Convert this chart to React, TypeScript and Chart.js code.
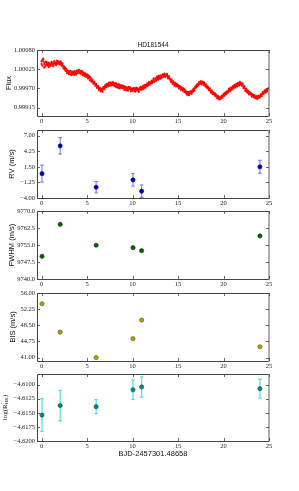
import React, { useEffect, useRef } from "react";
import { Chart, registerables } from "chart.js";
Chart.register(...registerables);

// ---------- data ----------
const xTickValues = [0, 5, 10, 15, 20, 25];
const obsEpochs = [0.05, 2.05, 6.0, 10.05, 11.0, 24.0];

const rvValues = [0.3, 5.2, -2.1, -0.8, -2.8, 1.5];
const rvErrors = [1.5, 1.45, 1.0, 1.1, 1.1, 1.15];
const rvTicks = [-4, -1.25, 1.5, 4.25, 7];

const fwhmValues = [9750.0, 9764.1, 9754.9, 9753.8, 9752.5, 9759.0];
const fwhmTicks = [9740, 9747.5, 9755, 9762.5, 9770];

const bisValues = [53.5, 46.9, 41.0, 45.4, 49.7, 43.5];
const bisTicks = [41, 44.75, 48.5, 52.25, 56];

const logRValues = [-4.6154, -4.6137, -4.6139, -4.6109, -4.6104, -4.6107];
const logRErrors = [0.0029, 0.0027, 0.00125, 0.0017, 0.0018, 0.00167];
const logRTicks = [-4.62, -4.6175, -4.615, -4.6125, -4.61];

const fluxTicks = [0.99915, 0.9997, 1.00025, 1.0008];
const photError = 0.00004;
const photTimes = [
  0, 0.1, 0.2, 0.3, 0.4, 0.5, 0.6, 0.7, 0.8, 0.9,
  1, 1.1, 1.2, 1.3, 1.4, 1.5, 1.6, 1.7, 1.8, 1.9,
  2, 2.1, 2.2, 2.3, 2.4, 2.5, 2.6, 2.7, 2.8, 2.9,
  3, 3.1, 3.2, 3.3, 3.4, 3.5, 3.6, 3.7, 3.8, 3.9,
  4, 4.1, 4.2, 4.3, 4.4, 4.5, 4.6, 4.7, 4.8, 4.9,
  5, 5.1, 5.2, 5.3, 5.4, 5.5, 5.6, 5.7, 5.8, 5.9,
  6, 6.1, 6.2, 6.3, 6.4, 6.5, 6.6, 6.7, 6.8, 6.9,
  7, 7.1, 7.2, 7.3, 7.4, 7.5, 7.6, 7.7, 7.8, 7.9,
  8, 8.1, 8.2, 8.3, 8.4, 8.5, 8.6, 8.7, 8.8, 8.9,
  9, 9.1, 9.2, 9.3, 9.4, 9.5, 9.6, 9.7, 9.8, 9.9,
  10, 10.1, 10.2, 10.3, 10.4, 10.5, 10.6, 10.7, 10.8, 10.9,
  11, 11.1, 11.2, 11.3, 11.4, 11.5, 11.6, 11.7, 11.8, 11.9,
  12, 12.1, 12.2, 12.3, 12.4, 12.5, 12.6, 12.7, 12.8, 12.9,
  13, 13.1, 13.2, 13.3, 13.4, 13.5, 13.6, 13.7, 13.8, 13.9,
  14, 14.1, 14.2, 14.3, 14.4, 14.5, 14.6, 14.7, 14.8, 14.9,
  15, 15.1, 15.2, 15.3, 15.4, 15.5, 15.6, 15.7, 15.8, 15.9,
  16, 16.1, 16.2, 16.3, 16.4, 16.5, 16.6, 16.7, 16.8, 16.9,
  17, 17.1, 17.2, 17.3, 17.4, 17.5, 17.6, 17.7, 17.8, 17.9,
  18, 18.1, 18.2, 18.3, 18.4, 18.5, 18.6, 18.7, 18.8, 18.9,
  19, 19.1, 19.2, 19.3, 19.4, 19.5, 19.6, 19.7, 19.8, 19.9,
  20, 20.1, 20.2, 20.3, 20.4, 20.5, 20.6, 20.7, 20.8, 20.9,
  21, 21.1, 21.2, 21.3, 21.4, 21.5, 21.6, 21.7, 21.8, 21.9,
  22, 22.1, 22.2, 22.3, 22.4, 22.5, 22.6, 22.7, 22.8, 22.9,
  23, 23.1, 23.2, 23.3, 23.4, 23.5, 23.6, 23.7, 23.8, 23.9,
  24, 24.1, 24.2, 24.3, 24.4, 24.5, 24.6, 24.7, 24.8, 24.9,
  25,
];
// flux - 1, in units of 1e-5 (first exposure of each cadence)
const photFluxOffsetE5 = [
  40, 52, 47, 30, 45, 38, 42, 35, 40, 36,
  38, 43, 36, 41, 45, 39, 44, 40, 47, 43,
  45, 40, 43, 36, 33, 26, 29, 20, 22, 16,
  15, 19, 10, 14, 12, 16, 9, 15, 19, 14,
  18, 21, 15, 19, 13, 17, 10, 12, 7, 9,
  5, 8, 1, 3, -4, -8, -5, -13, -11, -18,
  -20, -24, -27, -31, -28, -34, -37, -33, -29, -27,
  -25, -20, -23, -17, -21, -15, -19, -16, -20, -14,
  -18, -22, -16, -24, -20, -26, -23, -27, -21, -29,
  -28, -25, -31, -27, -33, -29, -26, -32, -30, -35,
  -33, -29, -36, -31, -34, -30, -37, -32, -28, -33,
  -28, -30, -25, -27, -22, -20, -23, -17, -18, -14,
  -12, -15, -9, -7, -10, -4, -6, 0, -3, 2,
  2, -1, 5, 3, 7, 8, 5, 10, 6, 3,
  1, -4, -6, -9, -13, -15, -18, -20, -17, -22,
  -25, -23, -28, -26, -30, -32, -35, -33, -38, -40,
  -42, -46, -45, -41, -43, -39, -35, -37, -31, -28,
  -22, -24, -18, -17, -14, -13, -15, -11, -15, -18,
  -20, -25, -24, -29, -31, -35, -38, -42, -40, -45,
  -48, -46, -51, -53, -55, -57, -60, -56, -55, -52,
  -50, -45, -47, -41, -43, -37, -35, -32, -34, -29,
  -28, -26, -23, -25, -21, -20, -18, -22, -15, -14,
  -18, -20, -25, -28, -33, -38, -36, -42, -40, -45,
  -48, -46, -51, -49, -53, -55, -52, -57, -56, -54,
  -52, -50, -47, -45, -42, -40, -37, -39, -34, -35,
  -33,
];
// flux - 1, in units of 1e-5 (second exposure of each cadence)
const photFluxOffsetE5b = [
  48, 35, 55, 40, 33, 46, 37, 44, 31, 42,
  35, 46, 40, 34, 48, 42, 37, 49, 41, 46,
  39, 47, 35, 41, 28, 32, 22, 26, 14, 20,
  11, 17, 20, 8, 18, 11, 19, 13, 10, 21,
  14, 23, 17, 12, 20, 8, 15, 6, 13, 3,
  10, -1, 6, -7, 0, -11, -9, -16, -14, -22,
  -17, -28, -23, -35, -32, -38, -31, -39, -26, -32,
  -21, -26, -17, -24, -14, -22, -13, -21, -12, -19,
  -23, -15, -26, -19, -28, -18, -30, -22, -27, -24,
  -23, -34, -26, -35, -28, -36, -30, -27, -38, -31,
  -37, -32, -30, -39, -28, -35, -31, -40, -33, -26,
  -33, -24, -31, -20, -28, -24, -16, -21, -12, -19,
  -16, -8, -13, -2, -11, -1, -8, 4, -5, 6,
  -2, 7, 1, 10, 4, 12, 3, 7, 11, -1,
  5, -2, -11, -5, -17, -10, -22, -14, -24, -19,
  -21, -30, -24, -34, -27, -36, -30, -40, -36, -44,
  -48, -40, -49, -44, -38, -45, -40, -31, -36, -25,
  -27, -19, -21, -12, -17, -10, -18, -13, -20, -14,
  -24, -19, -29, -26, -35, -30, -41, -36, -46, -43,
  -44, -52, -49, -58, -52, -61, -55, -59, -51, -56,
  -46, -51, -42, -46, -38, -41, -31, -38, -28, -33,
  -24, -30, -20, -27, -17, -24, -14, -19, -12, -18,
  -22, -16, -29, -24, -37, -31, -41, -37, -47, -42,
  -44, -53, -47, -55, -50, -58, -54, -60, -51, -57,
  -55, -47, -52, -41, -46, -36, -42, -33, -38, -30,
  -29,
];

// ---------- styling / layout ----------
const TICK_FONT = { family: "'Liberation Serif', 'DejaVu Serif', serif", size: 6.5 };
const SANS = "'Liberation Sans', Arial, sans-serif";
const SERIF = "'Liberation Serif', 'DejaVu Serif', serif";
const PLOT_LEFT = 37;
const PLOT_RIGHT = 269;
const CANVAS_W = 299;
const X_AXIS_H = 10;

function fmt(v: number, d: number) {
  const s = Math.abs(v).toFixed(d);
  return v < 0 ? "\u2212" + s : s;
}

type ErrSpec = { values: number[]; color: string; width: number; cap: number } | null;
type Series = { xs: number[]; ys: number[] };
type Panel = {
  key: string;
  chartTop: number;
  chartBottom: number;
  padTop: number;
  padBottom: number;
  yMin: number;
  yMax: number;
  yTicks: number[];
  decimals: number;
  series: Series[];
  err: ErrSpec;
  pointStyle: string;
  radius: number;
  fill: string;
  border: string;
  yTitle: string;
  yTitleX: number;
  mainTitle?: string;
  xTitle?: string;
  logTitle?: boolean;
};

const panels: Panel[] = [
  {
    key: "flux", chartTop: 50, chartBottom: 116, padTop: 20, padBottom: 2,
    yMin: 0.99891, yMax: 1.0008, yTicks: fluxTicks, decimals: 5,
    series: [
      { xs: photTimes, ys: photFluxOffsetE5.map((o) => 1 + o * 1e-5) },
      { xs: photTimes, ys: photFluxOffsetE5b.map((o) => 1 + o * 1e-5) },
    ],
    err: { values: photTimes.map(() => photError), color: "rgba(255,0,0,0.75)", width: 0.6, cap: 0 },
    pointStyle: "rect", radius: 1.3, fill: "#ff0000", border: "#ff0000",
    yTitle: "Flux", yTitleX: 9, mainTitle: "HD181544",
  },
  {
    key: "rv", chartTop: 130, chartBottom: 197.5, padTop: 10, padBottom: 2,
    yMin: -4, yMax: 8, yTicks: rvTicks, decimals: 2,
    series: [{ xs: obsEpochs, ys: rvValues }],
    err: { values: rvErrors, color: "#6f6fff", width: 1, cap: 1.8 },
    pointStyle: "circle", radius: 2.1, fill: "#0000c8", border: "#000070",
    yTitle: "RV (m/s)", yTitleX: 12,
  },
  {
    key: "fwhm", chartTop: 211, chartBottom: 279, padTop: 10, padBottom: 2,
    yMin: 9740, yMax: 9770, yTicks: fwhmTicks, decimals: 1,
    series: [{ xs: obsEpochs, ys: fwhmValues }], err: null,
    pointStyle: "circle", radius: 2.1, fill: "#006400", border: "#003000",
    yTitle: "FWHM (m/s)", yTitleX: 12,
  },
  {
    key: "bis", chartTop: 292.5, chartBottom: 360, padTop: 10, padBottom: 2,
    yMin: 40.2, yMax: 56, yTicks: bisTicks, decimals: 2,
    series: [{ xs: obsEpochs, ys: bisValues }], err: null,
    pointStyle: "circle", radius: 2.1, fill: "#a8a800", border: "#505000",
    yTitle: "BIS (m/s)", yTitleX: 12.5,
  },
  {
    key: "logr", chartTop: 374, chartBottom: 441.3, padTop: 10, padBottom: 22,
    yMin: -4.62, yMax: -4.6081, yTicks: logRTicks, decimals: 4,
    series: [{ xs: obsEpochs, ys: logRValues }],
    err: { values: logRErrors, color: "#62dede", width: 1.3, cap: 1.8 },
    pointStyle: "circle", radius: 2.1, fill: "#008b8b", border: "#004848",
    yTitle: "log(R'HK)", yTitleX: 5, logTitle: true, xTitle: "BJD-2457301.48658",
  },
];

function makeDecor(p: Panel) {
  return {
    id: "decor_" + p.key,
    beforeDatasetsDraw(chart: any) {
      if (!p.err) return;
      const ctx = chart.ctx;
      const xs = chart.scales.x;
      const ys = chart.scales.y;
      const e = p.err;
      ctx.save();
      ctx.strokeStyle = e.color;
      ctx.lineWidth = e.width;
      chart.data.datasets.forEach((ds: any) => {
        ds.data.forEach((pt: any, i: number) => {
          const err = e.values[i];
          const x = xs.getPixelForValue(pt.x);
          const y1 = ys.getPixelForValue(pt.y - err);
          const y2 = ys.getPixelForValue(pt.y + err);
          ctx.beginPath();
          ctx.moveTo(x, y1);
          ctx.lineTo(x, y2);
          if (e.cap > 0) {
            ctx.moveTo(x - e.cap, y1);
            ctx.lineTo(x + e.cap, y1);
            ctx.moveTo(x - e.cap, y2);
            ctx.lineTo(x + e.cap, y2);
          }
          ctx.stroke();
        });
      });
      ctx.restore();
    },
    afterDraw(chart: any) {
      const ctx = chart.ctx;
      const { left, right, top, bottom } = chart.chartArea;
      const xs = chart.scales.x;
      const ys = chart.scales.y;
      ctx.save();
      // frame
      ctx.strokeStyle = "#444";
      ctx.lineWidth = 1;
      ctx.beginPath();
      ctx.moveTo(right, top + 0.5);
      ctx.lineTo(left + 0.5, top + 0.5);
      ctx.lineTo(left + 0.5, bottom + 0.5);
      ctx.lineTo(right, bottom + 0.5);
      ctx.stroke();
      ctx.strokeStyle = "#9a9a9a";
      ctx.lineWidth = 1.6;
      ctx.beginPath();
      ctx.moveTo(right, top);
      ctx.lineTo(right, bottom + 1);
      ctx.stroke();
      // inward ticks
      ctx.strokeStyle = "#444";
      ctx.lineWidth = 0.8;
      const TL = 3;
      ctx.beginPath();
      xTickValues.forEach((v) => {
        const x = Math.round(xs.getPixelForValue(v)) + 0.5;
        ctx.moveTo(x, bottom);
        ctx.lineTo(x, bottom - TL);
        ctx.moveTo(x, top);
        ctx.lineTo(x, top + TL);
      });
      p.yTicks.forEach((v) => {
        const y = Math.round(ys.getPixelForValue(v)) + 0.5;
        ctx.moveTo(left, y);
        ctx.lineTo(left + TL, y);
        ctx.moveTo(right, y);
        ctx.lineTo(right - TL, y);
      });
      ctx.stroke();

      // titles
      ctx.fillStyle = "#111";
      const cx = (left + right) / 2;
      if (p.mainTitle) {
        ctx.font = `6.5px ${SANS}`;
        ctx.textAlign = "center";
        ctx.textBaseline = "alphabetic";
        ctx.fillText(p.mainTitle, cx, top - 3);
      }
      if (p.xTitle) {
        ctx.font = `7.5px ${SANS}`;
        ctx.textAlign = "center";
        ctx.textBaseline = "middle";
        ctx.fillText(p.xTitle, cx, bottom + 13);
      }
      const cy = (top + bottom) / 2;
      ctx.translate(p.yTitleX, cy);
      ctx.rotate(-Math.PI / 2);
      ctx.textBaseline = "middle";
      if (!p.logTitle) {
        ctx.font = `7.5px ${SANS}`;
        ctx.textAlign = "center";
        ctx.fillText(p.yTitle, 0, 0);
      } else {
        const big = `7px ${SERIF}`;
        const small = `5px ${SERIF}`;
        ctx.font = big;
        const w0 = ctx.measureText("log(R").width;
        const w3 = ctx.measureText(")").width;
        ctx.font = small;
        const w1 = ctx.measureText("\u2032").width;
        const w2 = ctx.measureText("HK").width;
        const mid = Math.max(w1, w2);
        let x = -(w0 + mid + w3) / 2;
        ctx.textAlign = "left";
        ctx.font = big;
        ctx.fillText("log(R", x, 0);
        x += w0;
        ctx.font = small;
        ctx.fillText("\u2032", x, -2.2);
        ctx.fillText("HK", x, 1.8);
        x += mid;
        ctx.font = big;
        ctx.fillText(")", x, 0);
      }
      ctx.restore();
    },
  };
}

function canvasGeom(p: Panel) {
  const top = p.chartTop - p.padTop;
  const height = p.chartBottom - top + X_AXIS_H + p.padBottom;
  return { top, height };
}

export default function App() {
  const refs = useRef<(HTMLCanvasElement | null)[]>([]);

  useEffect(() => {
    const charts: Chart[] = [];
    panels.forEach((p, i) => {
      const canvas = refs.current[i];
      if (!canvas) return;
      const chart = new Chart(canvas, {
        type: "scatter",
        data: {
          datasets: p.series.map((s) => ({
            data: s.xs.map((x, j) => ({ x, y: s.ys[j] })),
            pointStyle: p.pointStyle as any,
            pointRadius: p.radius,
            pointBackgroundColor: p.fill,
            pointBorderColor: p.border,
            pointBorderWidth: p.pointStyle === "rect" ? 0 : 0.6,
            showLine: false,
          })),
        },
        options: {
          responsive: false,
          animation: false,
          events: [],
          layout: {
            padding: { left: 0, right: CANVAS_W - PLOT_RIGHT, top: p.padTop, bottom: p.padBottom },
          },
          plugins: {
            legend: { display: false },
            tooltip: { enabled: false },
            title: { display: false },
          },
          scales: {
            x: {
              type: "linear",
              min: -0.5,
              max: 25,
              grid: { display: false, drawTicks: false },
              border: { display: false },
              afterFit: (s: any) => {
                s.height = X_AXIS_H;
              },
              afterBuildTicks: (s: any) => {
                s.ticks = xTickValues.map((v) => ({ value: v }));
              },
              ticks: {
                font: TICK_FONT,
                color: "#222",
                padding: 1.5,
                maxRotation: 0,
                autoSkip: false,
                callback: (v: any) => String(v),
              },
            },
            y: {
              type: "linear",
              min: p.yMin,
              max: p.yMax,
              grid: { display: false, drawTicks: false },
              border: { display: false },
              afterFit: (s: any) => {
                s.width = PLOT_LEFT;
              },
              afterBuildTicks: (s: any) => {
                s.ticks = p.yTicks.map((v) => ({ value: v }));
              },
              ticks: {
                font: TICK_FONT,
                color: "#222",
                padding: 2,
                autoSkip: false,
                callback: (v: any) => fmt(Number(v), p.decimals),
              },
            },
          },
        },
        plugins: [makeDecor(p)],
      });
      charts.push(chart);
    });
    return () => charts.forEach((c) => c.destroy());
  }, []);

  return (
    <div style={{ position: "absolute", left: 0, top: 0, width: 299, height: 491, background: "#fff", overflow: "hidden" }}>
      {panels.map((p, i) => {
        const g = canvasGeom(p);
        return (
          <canvas
            key={p.key}
            ref={(el) => {
              refs.current[i] = el;
            }}
            width={CANVAS_W}
            height={Math.round(g.height)}
            style={{ position: "absolute", left: 0, top: g.top, width: CANVAS_W, height: Math.round(g.height) }}
          />
        );
      })}
    </div>
  );
}
